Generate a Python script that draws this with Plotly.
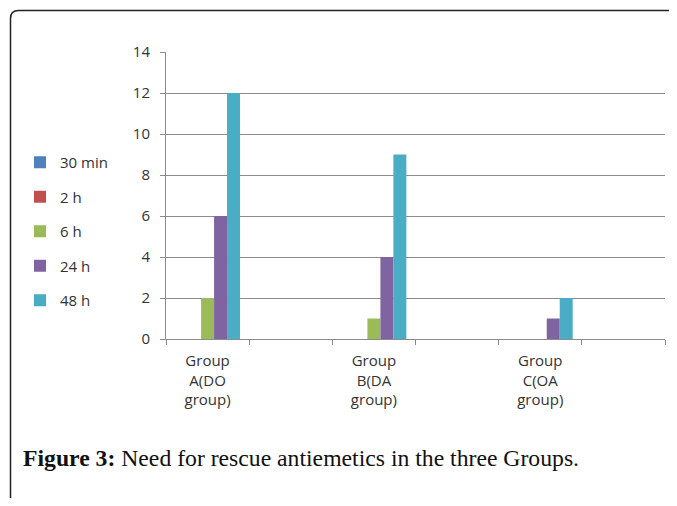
import plotly.graph_objects as go

categories = ["Group<br>A(DO<br>group)", " ", "Group<br>B(DA<br>group)", "  ", "Group<br>C(OA<br>group)", "   "]
series_names = ["30 min", "2 h", "6 h", "24 h", "48 h"]
values_30min = [0, None, 0, None, 0, None]
values_2h = [0, None, 0, None, 0, None]
values_6h = [2, None, 1, None, 0, None]
values_24h = [6, None, 4, None, 1, None]
values_48h = [12, None, 9, None, 2, None]
colors = ["#4F81BD", "#C0504D", "#9BBB59", "#8064A2", "#4BACC6"]
y_ticks = [0, 2, 4, 6, 8, 10, 12, 14]

# page body has an 8px margin; figure sized to fit inside the window
OFF = 8
W, H = 661, 490
L, R, T, B = 158, 4, 44, 159
pw = W - L - R
ph = H - T - B

def px_x(p):
    # p in screen pixels
    return (p - OFF - L) / pw

def px_y(p):
    return (H - B - (p - OFF)) / ph

fig = go.Figure()
all_vals = [values_30min, values_2h, values_6h, values_24h, values_48h]
for i, (name, vals) in enumerate(zip(series_names, all_vals)):
    fig.add_trace(go.Bar(x=categories, y=vals, name=name, marker_color=colors[i],
                         marker_line_width=0, legendgroup=name))

fig.update_layout(
    width=W, height=H,
    margin=dict(l=L, r=R, t=T, b=B),
    paper_bgcolor="white", plot_bgcolor="white",
    barmode="group", bargap=0.22, bargroupgap=0,
    font=dict(family="Open Sans, DejaVu Sans, sans-serif", size=15, color="#333333"),
    legend=dict(x=px_x(20), y=px_y(146), xanchor="left", yanchor="top",
                traceorder="grouped", tracegroupgap=12,
                font=dict(size=15, color="#333333"), bgcolor="rgba(0,0,0,0)",
                itemwidth=30),
    xaxis=dict(type="category", categoryorder="array", categoryarray=categories,
               showline=True, linecolor="#8c8c8c", linewidth=1,
               ticks="outside", tickson="boundaries", ticklen=5, tickcolor="#8c8c8c",
               ticklabelstandoff=8,
               showgrid=False, tickfont=dict(size=15, color="#333333")),
    yaxis=dict(range=[0, 14], tickvals=y_ticks, showline=True, linecolor="#8c8c8c",
               linewidth=1, ticks="outside", ticklen=5, tickcolor="#8c8c8c",
               ticklabelstandoff=7,
               showgrid=True, gridcolor="#8c8c8c", gridwidth=1, zeroline=False,
               tickfont=dict(size=15, color="#333333")),
)

# frame with rounded top-left corner
x0 = px_x(10.5)
y0 = px_y(10.5)
rx = 8 / pw
ry = 8 / ph
fig.add_shape(type="path", xref="paper", yref="paper",
              path=f"M {x0},{px_y(520)} L {x0},{y0 - ry} Q {x0},{y0} {x0 + rx},{y0} L {px_x(700)},{y0}",
              line=dict(color="#222222", width=1.5))

fig.add_annotation(xref="paper", yref="paper", x=px_x(21), y=px_y(458),
                   xanchor="left", yanchor="middle", showarrow=False,
                   text="<b>Figure 3:</b> Need for rescue antiemetics in the three Groups.",
                   font=dict(family="Liberation Serif, DejaVu Serif, serif", size=23.7, color="#111111"))

fig.write_html("out.html")
